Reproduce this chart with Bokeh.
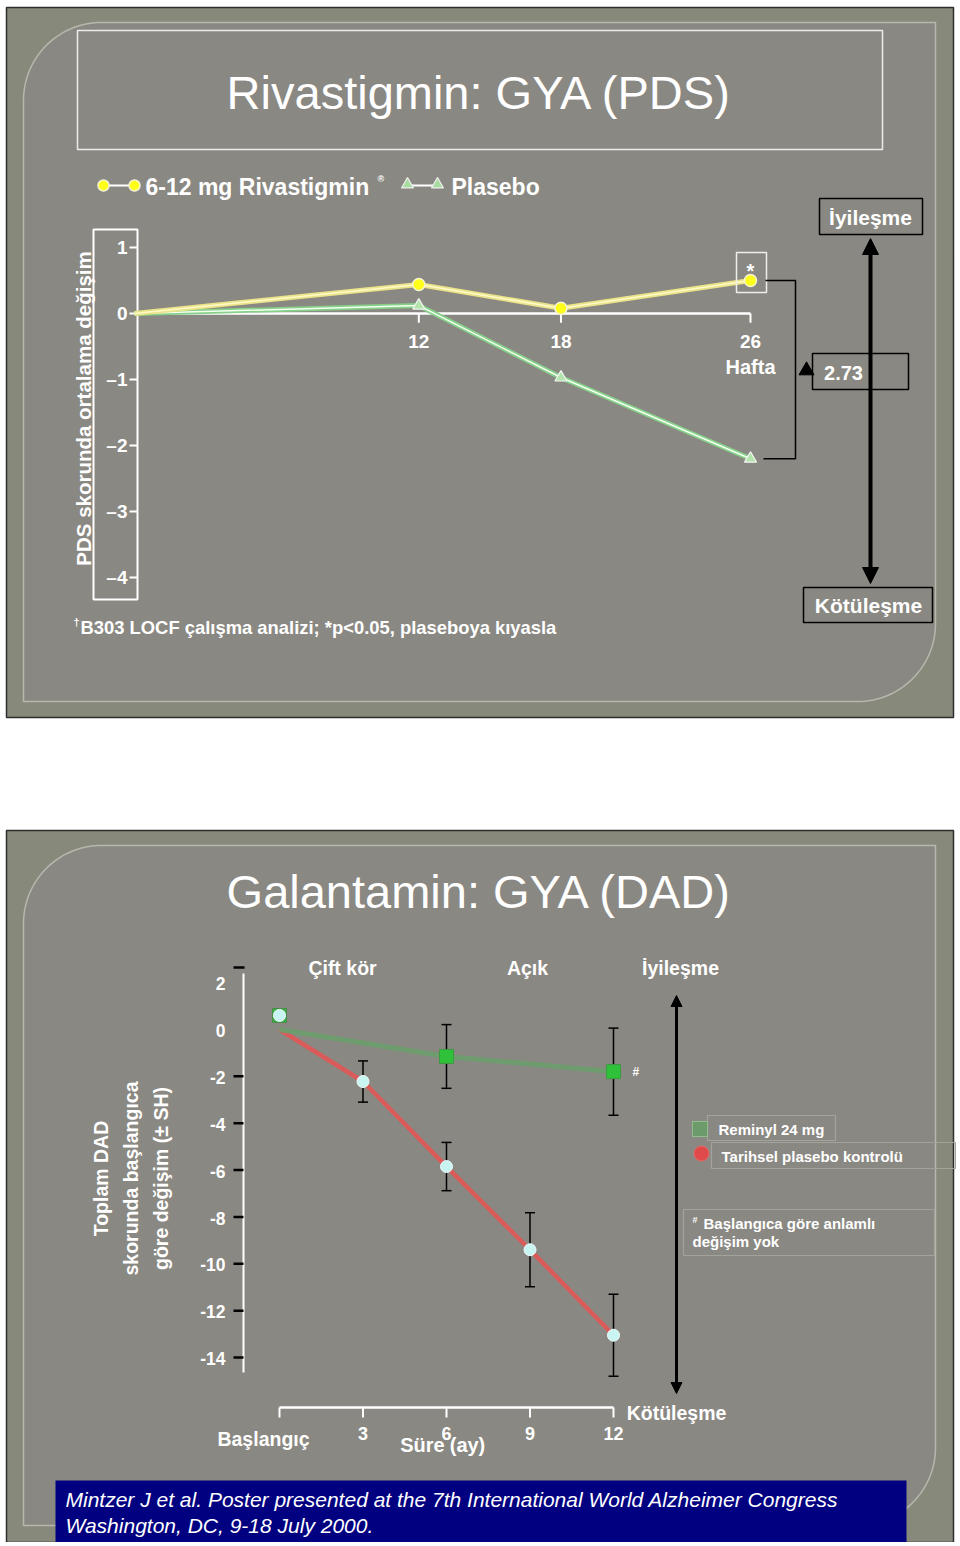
import numpy as np
from bokeh.plotting import figure
from bokeh.models import Range1d, Arrow, NormalHead
from bokeh.core.properties import value
from bokeh.embed import file_html
from bokeh.resources import INLINE

# ---------------- data: Rivastigmin (PDS) ----------------
weeks = [0, 12, 18, 26]
rivastigmin = [0.0, 0.44, 0.08, 0.50]
plasebo_top = [0.0, 0.12, -0.97, -2.20]
pds_ticks = [1, 0, -1, -2, -3, -4]
pds_tick_labels = ["1", "0", "\u20131", "\u20132", "\u20133", "\u20134"]
week_ticks = [12, 18, 26]
week_tick_labels = ["12", "18", "26"]
difference_label = "2.73"

# ---------------- data: Galantamin (DAD) ----------------
months_reminyl = [0, 6, 12]
reminyl = [0.0, -1.15, -1.80]
reminyl_se = [0.0, 1.36, 1.86]
months_placebo = [0, 3, 6, 9, 12]
placebo_hist = [0.0, -2.22, -5.85, -9.40, -13.05]
placebo_se = [0.0, 0.88, 1.03, 1.58, 1.75]
baseline_marker_value = 0.6
dad_ticks = [2, 0, -2, -4, -6, -8, -10, -12, -14]
dad_tick_labels = ["2", "0", "-2", "-4", "-6", "-8", "-10", "-12", "-14"]
month_ticks = [3, 6, 9, 12]
month_tick_labels = ["3", "6", "9", "12"]

FONT = "Liberation Sans"
W, H = 956, 1542
X0, Y0 = 0, 0

p = figure(width=W, height=H, x_range=Range1d(X0, X0 + W), y_range=Range1d(Y0 + H, Y0),
           output_backend="svg", toolbar_location=None, min_border=0,
           x_axis_location=None, y_axis_location=None,
           background_fill_color="white", border_fill_color="white",
           outline_line_color=None)
p.grid.visible = False


def lin_range(px_a, val_a, px_b, val_b, lo_px, hi_px):
    s = (px_b - px_a) / (val_b - val_a)
    return Range1d(val_a + (lo_px - px_a) / s, val_a + (hi_px - px_a) / s)


p.extra_x_ranges = {
    "wk": lin_range(134, 0, 750, 26, X0, X0 + W),
    "mo": lin_range(279, 0, 613, 12, X0, X0 + W),
}
p.extra_y_ranges = {
    "pds": lin_range(313, 0, 247, 1, Y0 + H, Y0),
    "dad": lin_range(1029, 0, 1357, -14, Y0 + H, Y0),
}


def T(x, y, s, size, color="white", style="bold", align="left", baseline="middle",
      angle=0.0, **kw):
    xs = x if isinstance(x, list) else [x]
    ys = y if isinstance(y, list) else [y]
    ss = s if isinstance(s, list) else [s]
    p.text(x=xs, y=ys, text=ss, text_font=value(FONT), text_font_size=f"{size}px",
           text_font_style=style, text_color=color, text_align=align,
           text_baseline=baseline, angle=angle, **kw)


def panel(x0, y0, x1, y1, r):
    t1 = np.linspace(np.pi, 1.5 * np.pi, 40)
    xs = list(x0 + r + r * np.cos(t1))
    ys = list(y0 + r + r * np.sin(t1))
    xs += [x1]
    ys += [y0]
    t2 = np.linspace(0, 0.5 * np.pi, 40)
    xs += list(x1 - r + r * np.cos(t2))
    ys += list(y1 - r + r * np.sin(t2))
    xs += [x0]
    ys += [y1]
    return xs, ys


OUTER = "#878a7b"
INNER = "#8a8882"
EDGE = "#b8b7ad"

# ===================== Slide 1 =====================
p.quad(left=6, right=953, top=7, bottom=717, fill_color=OUTER, line_color="#2e2e2e", line_width=1.5)
px, py = panel(23, 22, 935, 701, 78)
p.patch(px, py, fill_color=INNER, line_color=EDGE, line_width=1.5)

p.quad(left=77, right=882, top=30, bottom=149, fill_color=None, line_color="#ececec", line_width=1.5)
T(479, 92, "Rivastigmin: GYA (PDS)", 47, style="normal", align="center")

# legend
p.line([103, 134], [185, 185], line_color="white", line_width=2)
p.scatter([103, 134], [185, 185], marker="circle", size=11, fill_color="#ffff1a", line_color="#f4f4d0", line_width=1.5)
T(145, 186, "6-12 mg Rivastigmin", 23)
T(377, 178, "\u00ae", 9)
p.line([407, 437], [185, 185], line_color="white", line_width=2)
p.scatter([407, 437], [184, 184], marker="triangle", size=12, fill_color="#a8dca0", line_color="#f0f0f0", line_width=1.2)
T(451, 186, "Plasebo", 23)

# y axis (box + ticks + labels)
p.quad(left=93, right=137, top=229, bottom=599, fill_color=None, line_color="white", line_width=2)
p.segment(x0=[129] * len(pds_ticks), x1=[137] * len(pds_ticks), y0=pds_ticks, y1=pds_ticks,
          y_range_name="pds", line_color="white", line_width=2)
T([127] * len(pds_ticks), pds_ticks, pds_tick_labels, 19, align="right", y_range_name="pds")
T(83, 408, "PDS skorunda ortalama de\u011fi\u015fim", 20.5, align="center", angle=np.pi / 2)

# x axis at zero
p.line([weeks[0], weeks[-1]], [0, 0], x_range_name="wk", y_range_name="pds", line_color="white", line_width=2.5)
p.segment(x0=week_ticks, x1=week_ticks, y0=[0] * 3, y1=[-0.14] * 3, x_range_name="wk", y_range_name="pds",
          line_color="white", line_width=2)
T(week_ticks, [341] * 3, week_tick_labels, 19, align="center", x_range_name="wk")
T(750, 366, "Hafta", 20, align="center")

# data lines
p.line(weeks, plasebo_top, x_range_name="wk", y_range_name="pds", line_color="#86d08a", line_width=5)
p.line(weeks, plasebo_top, x_range_name="wk", y_range_name="pds", line_color="#f4fff0", line_width=1.5)
p.line(weeks, rivastigmin, x_range_name="wk", y_range_name="pds", line_color="#ebe38a", line_width=5)
p.line(weeks, rivastigmin, x_range_name="wk", y_range_name="pds", line_color="#fffbc8", line_width=1.5)
p.scatter(weeks[1:], plasebo_top[1:], x_range_name="wk", y_range_name="pds", marker="triangle", size=12,
          fill_color="#b4e4ac", line_color="#f4f4f4", line_width=1.2)
p.scatter(weeks[1:], rivastigmin[1:], x_range_name="wk", y_range_name="pds", marker="circle", size=12,
          fill_color="#ffff1a", line_color="#f4f4d0", line_width=1.5)

# significance box + bracket
p.quad(left=736, right=766, top=252, bottom=292, fill_color=None, line_color="#eeeeee", line_width=1.5)
T(750, 270, "*", 20, align="center")
p.line([765, 795, 795, 763], [rivastigmin[-1], rivastigmin[-1], plasebo_top[-1], plasebo_top[-1]],
       y_range_name="pds", line_color="black", line_width=1.5)
p.scatter([806], [370], marker="triangle", size=15, fill_color="black", line_color="black")
p.quad(left=812, right=908, top=353, bottom=389, fill_color=None, line_color="black", line_width=1.5)
T(843, 372, difference_label, 20, align="center")

# improvement / worsening arrow
p.add_layout(Arrow(x_start=870, y_start=583, x_end=870, y_end=238, line_color="black", line_width=4,
                   end=NormalHead(size=16, fill_color="black", line_color="black"),
                   start=NormalHead(size=16, fill_color="black", line_color="black")))
p.quad(left=819, right=922, top=198, bottom=234, fill_color=None, line_color="black", line_width=1.5)
T(870, 217, "\u0130yile\u015fme", 21, align="center")
p.quad(left=803, right=932, top=587, bottom=622, fill_color=None, line_color="black", line_width=1.5)
T(868, 605, "K\u00f6t\u00fcle\u015fme", 21, align="center")

T(73, 621, "\u2020", 11)
T(80, 627, "B303 LOCF \u00e7al\u0131\u015fma analizi; *p<0.05, plaseboya k\u0131yasla", 18.4)

# ===================== Slide 2 =====================
p.quad(left=6, right=953, top=830, bottom=1542, fill_color=OUTER, line_color="#2e2e2e", line_width=1.5)
px, py = panel(23, 845, 935, 1525, 78)
p.patch(px, py, fill_color=INNER, line_color=EDGE, line_width=1.5)

T(479, 891, "Galantamin: GYA (DAD)", 47, style="normal", align="center")
T(342, 967, "\u00c7ift k\u00f6r", 19.5, align="center")
T(527, 967, "A\u00e7\u0131k", 19.5, align="center")
T(680, 967, "\u0130yile\u015fme", 19.5, align="center")

# y axis
p.line([243, 243], [973, 1372], line_color="white", line_width=2)
p.line([233, 244], [967, 967], line_color="black", line_width=2.5)
neg_ticks = [t for t in dad_ticks if t < 0]
p.segment(x0=[233] * len(neg_ticks), x1=[243] * len(neg_ticks), y0=neg_ticks, y1=neg_ticks,
          y_range_name="dad", line_color="black", line_width=2.5)
T([225] * len(dad_ticks), [t - 0.05 for t in dad_ticks], dad_tick_labels, 17.5, align="right",
  y_range_name="dad")
T(100, 1178, "Toplam DAD", 19.5, align="center", angle=np.pi / 2)
T(130, 1178, "skorunda ba\u015flang\u0131ca", 19.5, align="center", angle=np.pi / 2)
T(160, 1178, "g\u00f6re de\u011fi\u015fim (\u00b1 SH)", 19.5, align="center", angle=np.pi / 2)

# x axis
p.line([0, 12], [1407, 1407], x_range_name="mo", line_color="white", line_width=2.5)
p.segment(x0=[0] + month_ticks, x1=[0] + month_ticks, y0=[1407] * 5, y1=[1417] * 5, x_range_name="mo",
          line_color="white", line_width=2)
T(month_ticks, [1433] * 4, month_tick_labels, 18, align="center", x_range_name="mo")
T(263, 1438, "Ba\u015flang\u0131\u00e7", 19.5, align="center")
T(422, 1444, "S\u00fcre", 20, align="center")
T(467, 1444, "(ay)", 20, align="center")

# data: lines
p.line(months_placebo, placebo_hist, x_range_name="mo", y_range_name="dad", line_color="#d95c5a", line_width=4.5)
p.line(months_reminyl, reminyl, x_range_name="mo", y_range_name="dad", line_color="#6a9f6c", line_width=5,
       line_alpha=0.9)


# error bars
def errbars(xs, ys, se):
    xs2 = [x for x, s in zip(xs, se) if s > 0]
    lo = [y - s for y, s in zip(ys, se) if s > 0]
    hi = [y + s for y, s in zip(ys, se) if s > 0]
    p.segment(x0=xs2, x1=xs2, y0=lo, y1=hi, x_range_name="mo", y_range_name="dad", line_color="black",
              line_width=1.5)
    p.scatter(xs2 + xs2, lo + hi, marker="dash", size=10, x_range_name="mo", y_range_name="dad",
              line_color="black", line_width=1.5)


errbars(months_reminyl, reminyl, reminyl_se)
errbars(months_placebo, placebo_hist, placebo_se)

# markers
p.scatter([months_reminyl[0]], [baseline_marker_value], x_range_name="mo", y_range_name="dad", marker="square",
          size=14, fill_color="#3cb043", line_color="#4a8a4a")
p.scatter([months_placebo[0]], [baseline_marker_value], x_range_name="mo", y_range_name="dad", marker="circle",
          size=12, fill_color="#c8f4f2", line_color="#eefcfc", line_width=1)
p.scatter(months_reminyl[1:], reminyl[1:], x_range_name="mo", y_range_name="dad", marker="square", size=14,
          fill_color="#2fc13a", line_color="#3d9a40", line_width=1)
p.scatter(months_placebo[1:], placebo_hist[1:], x_range_name="mo", y_range_name="dad", marker="circle", size=12,
          fill_color="#c8f4f2", line_color="#eefcfc", line_width=1)
T([months_reminyl[-1]], [reminyl[-1]], ["#"], 12, x_range_name="mo", y_range_name="dad", x_offset=19,
  y_offset=0)

# arrow
p.add_layout(Arrow(x_start=676, y_start=1393, x_end=676, y_end=995, line_color="black", line_width=3,
                   end=NormalHead(size=11, fill_color="black", line_color="black"),
                   start=NormalHead(size=11, fill_color="black", line_color="black")))
T(676, 1412, "K\u00f6t\u00fcle\u015fme", 19.5, align="center")

# legend
BOXC = "#a3a29b"
p.quad(left=707, right=835, top=1115, bottom=1140, fill_color=None, line_color=BOXC, line_width=1.2)
p.quad(left=692, right=707, top=1121, bottom=1136, fill_color="#6b9b6b", line_color="#8fbf8f", line_width=1)
T(718, 1129, "Reminyl 24 mg", 15)
p.quad(left=711, right=955, top=1142, bottom=1168, fill_color=None, line_color=BOXC, line_width=1.2)
p.scatter([701], [1153], marker="circle", size=15, fill_color="#e04a4a", line_color="#e86a6a")
T(721, 1156, "Tarihsel plasebo kontrol\u00fc", 15)
p.quad(left=683, right=934, top=1209, bottom=1255, fill_color=None, line_color=BOXC, line_width=1.2)
T(692, 1219, "#", 9)
T(703, 1223, "Ba\u015flang\u0131ca g\u00f6re anlaml\u0131", 15)
T(692, 1241, "de\u011fi\u015fim yok", 15)

# footer
p.quad(left=55, right=906, top=1480, bottom=1542, fill_color="#000080", line_color=None)
T(65, 1499, "Mintzer J et al. Poster presented at the 7th International World Alzheimer Congress", 21,
  style="italic")
T(65, 1525, "Washington, DC, 9-18 July 2000.", 21, style="italic")

open("out.html", "w").write(file_html(p, INLINE))
